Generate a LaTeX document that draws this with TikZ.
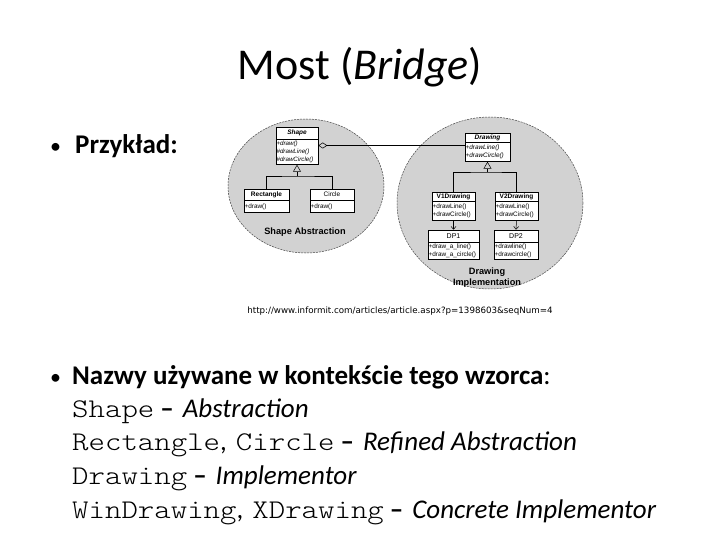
\documentclass[tikz,border=0pt]{standalone}
\usepackage{fontspec}
\setmainfont{Carlito}
\newfontfamily\uml{Liberation Sans}
\newfontfamily\urlfont{DejaVu Sans}
\newfontfamily\cour{lmmonolt10-regular.otf}[FakeStretch=1.16]
\usetikzlibrary{arrows.meta}
\definecolor{ellfill}{RGB}{210,210,210}
\definecolor{elldraw}{RGB}{70,70,70}
\tikzset{
  bodytext/.style={anchor=base west, inner sep=0pt, font=\fontsize{27}{32}\selectfont},
  bulletmark/.style={anchor=base west, inner sep=0pt, font=\fontsize{22}{26}\selectfont},
  grp/.style={fill=ellfill, draw=elldraw, line width=0.5pt, dash pattern=on 2pt off 1pt},
  umlhead/.style={draw, fill=white, line width=0.5pt, inner sep=0pt, font=\uml\fontsize{6.5}{7}\selectfont\bfseries},
  umlbody/.style={draw, fill=white, line width=0.5pt, anchor=north, inner xsep=0.6pt, inner ysep=0.3pt, align=left, font=\uml\fontsize{6.4}{8.2}\selectfont},
  inherit/.style={line width=0.5pt, -{Triangle[open, length=7pt, width=8pt]}},
  aggr/.style={line width=0.5pt, {Diamond[open, length=9pt, width=6pt]}-},
  assoc/.style={line width=0.5pt, -{Straight Barb[length=3pt, width=5pt]}},
  grplabel/.style={font=\uml\fontsize{9.2}{11}\selectfont\bfseries, align=center, inner sep=0pt}
}
\newcommand{\dsh}{\hspace{6pt}\textbf{–}\hspace{9pt}}
\begin{document}
\begin{tikzpicture}[x=1pt,y=-1pt]
\path[use as bounding box, fill=white] (0,0) rectangle (720,540);

% title
\node[anchor=base, inner sep=0pt, font=\fontsize{44}{53}\selectfont] (title) at (360,80) {Most (\textit{Bridge})};

% first bullet
\node[bulletmark] (b1) at (50,154) {•};
\node[bodytext] (przyklad) at (75,154) {\textbf{Przykład:}};

% diagram groups
\path[grp] (306,186) ellipse [x radius=78, y radius=67];
\path[grp] (490,203) ellipse [x radius=93, y radius=86];

% Shape abstraction classes
\node[umlhead, minimum width=42pt, minimum height=12pt] (shapeH) at (297,133) {\itshape Shape};
\node[umlbody, text width=40.8pt, minimum height=25pt, font=\uml\fontsize{6.2}{7.8}\selectfont] (shapeB) at (shapeH.south) {\itshape +draw()\\\#drawLine()\\\#drawCircle()};
\node[umlhead, minimum width=45pt, minimum height=11pt] (rectH) at (266.5,194.5) {Rectangle};
\node[umlbody, text width=43.8pt, minimum height=12pt] (rectB) at (rectH.south) {+draw()};
\node[umlhead, minimum width=44pt, minimum height=11pt, font=\uml\fontsize{6.5}{7}\selectfont] (circH) at (332,194.5) {Circle};
\node[umlbody, text width=42.8pt, minimum height=12pt] (circB) at (circH.south) {+draw()};

% Drawing implementation classes
\node[umlhead, minimum width=45pt, minimum height=9pt] (drawH) at (487.5,137.5) {\itshape Drawing};
\node[umlbody, text width=43.8pt, minimum height=19pt] (drawB) at (drawH.south) {\itshape +drawLine()\\\itshape +drawCircle()};
\node[umlhead, minimum width=43pt, minimum height=9pt] (v1H) at (453.5,196.5) {V1Drawing};
\node[umlbody, text width=41.8pt, minimum height=19pt] (v1B) at (v1H.south) {+drawLine()\\+drawCircle()};
\node[umlhead, minimum width=43pt, minimum height=9pt] (v2H) at (516.5,196.5) {V2Drawing};
\node[umlbody, text width=41.8pt, minimum height=19pt] (v2B) at (v2H.south) {+drawLine()\\+drawCircle()};
\node[umlhead, minimum width=51pt, minimum height=12pt, font=\uml\fontsize{7}{8}\selectfont] (dp1H) at (453.5,236) {DP1};
\node[umlbody, text width=49.8pt, minimum height=17pt] (dp1B) at (dp1H.south) {+draw\_a\_line()\\+draw\_a\_circle()};
\node[umlhead, minimum width=44pt, minimum height=12pt, font=\uml\fontsize{7}{8}\selectfont] (dp2H) at (516,236) {DP2};
\node[umlbody, text width=42.8pt, minimum height=17pt] (dp2B) at (dp2H.south) {+drawline()\\+drawcircle()};

% connectors
\coordinate (js) at (297,176);
\draw[line width=0.5pt] (rectH.north) |- (js) -| (circH.north);
\draw[inherit] (js) -- (shapeB.south);
\coordinate (jd) at (487.5,172);
\draw[line width=0.5pt] (v1H.north) |- (jd) -| (v2H.north);
\draw[inherit] (jd) -- (drawB.south);
\coordinate (aggy) at (0,145.5);
\draw[aggr] (shapeB.east |- aggy) -- (drawB.west |- aggy);
\draw[assoc] (v1B.south) -- (dp1H.north);
\draw[assoc] (v2B.south) -- (dp2H.north);

% group labels
\node[grplabel] (shapeLbl) at (305,232) {Shape Abstraction};
\node[grplabel] (drawLbl) at (487,277.5) {Drawing\\Implementation};

% source url
\node[inner sep=0pt, font=\urlfont\fontsize{8.7}{10}\selectfont] (url) at (400,311) {http://www.informit.com/articles/article.aspx?p=1398603\&seqNum=4};

% second bullet and names
\node[bulletmark] (b2) at (50,384) {•};
\node[bodytext] (nazwy) at (72,384) {\textbf{Nazwy używane w kontekście tego wzorca}:};
\node[bodytext] (l1) at (72,417) {{\cour Shape}\dsh\textit{Abstraction}};
\node[bodytext] (l2) at (72,450) {{\cour Rectangle},\hspace{9pt}{\cour Circle}\dsh\textit{Refined Abstraction}};
\node[bodytext] (l3) at (72,484) {{\cour Drawing}\dsh\textit{Implementor}};
\node[bodytext] (l4) at (72,518) {{\cour WinDrawing},\hspace{9pt}{\cour XDrawing}\dsh\textit{Concrete Implementor}};
\end{tikzpicture}
\end{document}
